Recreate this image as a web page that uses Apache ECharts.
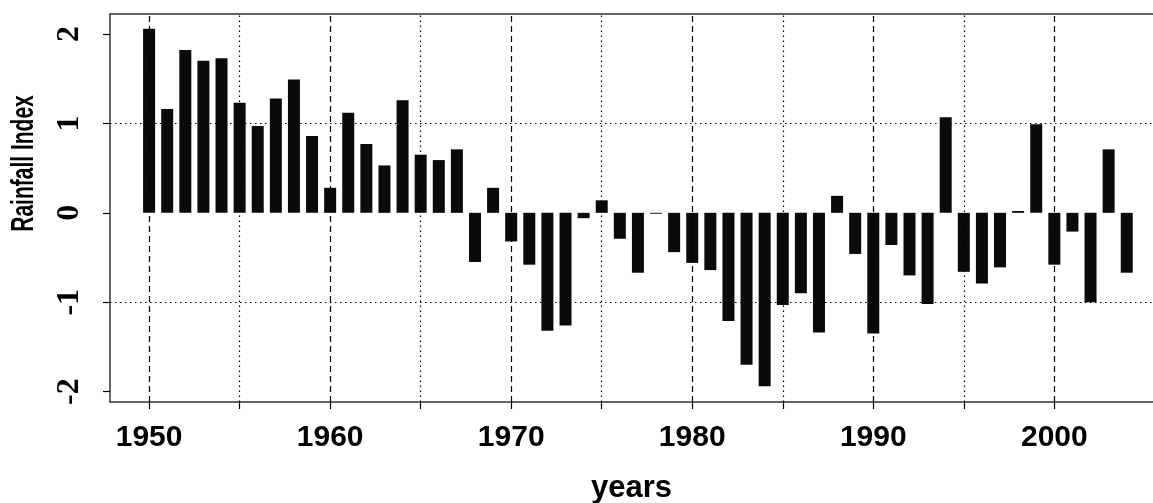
<!DOCTYPE html>
<html>
<head>
<meta charset="utf-8">
<script src="https://cdn.jsdelivr.net/npm/echarts@6/dist/echarts.min.js"></script>
<style>
html,body{margin:0;padding:0;background:#fff;}
#chart{width:1153px;height:503px;}
</style>
</head>
<body>
<div id="chart"></div>
<script>
const years = [1950,1951,1952,1953,1954,1955,1956,1957,1958,1959,
  1960,1961,1962,1963,1964,1965,1966,1967,1968,1969,
  1970,1971,1972,1973,1974,1975,1976,1977,1978,1979,
  1980,1981,1982,1983,1984,1985,1986,1987,1988,1989,
  1990,1991,1992,1993,1994,1995,1996,1997,1998,1999,
  2000,2001,2002,2003,2004];
const rainfall = [2.06,1.16,1.82,1.70,1.73,1.23,0.97,1.28,1.49,0.86,
  0.28,1.12,0.77,0.53,1.26,0.65,0.59,0.71,-0.55,0.28,
  -0.32,-0.58,-1.32,-1.26,-0.06,0.14,-0.29,-0.67,-0.01,-0.44,
  -0.56,-0.64,-1.21,-1.70,-1.94,-1.03,-0.90,-1.34,0.19,-0.46,
  -1.35,-0.36,-0.70,-1.02,1.07,-0.66,-0.79,-0.61,0.02,0.99,
  -0.58,-0.21,-1.00,0.71,-0.67];
const xLabelTicks = [1950,1960,1970,1980,1990,2000];
const xMinorTicks = [1950,1955,1960,1965,1970,1975,1980,1985,1990,1995,2000];
const dashedV = [1950,1960,1970,1980,1990,2000];
const dottedV = [1955,1965,1975,1985,1995];
const dottedH = [-1,1];
const yTicks = [-2,-1,0,1,2];

const chart = echarts.init(document.getElementById('chart'), null, {renderer:'canvas'});
const markData = [];
dashedV.forEach(v => markData.push({xAxis: v, lineStyle:{type:[6,4], color:'#000', width:1.2}}));
dottedV.forEach(v => markData.push({xAxis: v, lineStyle:{type:[1.5,3.5], color:'#000', width:1.2}}));
dottedH.forEach(v => markData.push({yAxis: v, lineStyle:{type:[1.5,3.5], color:'#000', width:1.2}}));

const labelFont = {fontFamily:'Liberation Sans', fontWeight:'bold', color:'#000'};
chart.setOption({
  animation:false,
  backgroundColor:'#fff',
  grid:{left:110, right:0, top:14, bottom:101, show:false, containLabel:false, outerBoundsMode:'none'},
  xAxis:[{
    type:'value', min:1947.84, max:2005.45, position:'bottom',
    axisLine:{show:true, onZero:false, lineStyle:{color:'#333', width:1.5}},
    splitLine:{show:false},
    axisTick:{show:true, customValues:xMinorTicks, length:7, lineStyle:{color:'#000', width:1.2}},
    axisLabel:Object.assign({customValues:xLabelTicks, margin:21, fontSize:30, formatter:v=>String(v)}, labelFont),
    name:'years', nameLocation:'middle', nameGap:71,
    nameTextStyle:Object.assign({fontSize:31}, labelFont)
  },{
    type:'value', min:1947.84, max:2005.45, position:'top',
    axisLine:{show:true, onZero:false, lineStyle:{color:'#333', width:1.5}},
    splitLine:{show:false}, axisTick:{show:false}, axisLabel:{show:false}
  }],
  yAxis:{
    type:'value', min:-2.116, max:2.224,
    axisLine:{show:true, onZero:false, lineStyle:{color:'#333', width:1.5}},
    splitLine:{show:false},
    axisTick:{show:true, customValues:yTicks, length:7, lineStyle:{color:'#000', width:1.2}},
    axisLabel:{customValues:yTicks, rotate:90, margin:24, fontFamily:'Liberation Sans Narrow', fontWeight:'bold', fontSize:32, color:'#000'}
  },
  graphic:[{
    type:'text', x:24, y:163.5, rotation:Math.PI/2, scaleX:0.7, scaleY:1.05,
    style:{text:'Rainfall Index', fontFamily:'Liberation Sans', fontWeight:'bold', fontSize:30, fill:'#000', textAlign:'center', textVerticalAlign:'middle'}
  }],
  series:[{
    type:'bar',
    xAxisIndex:0,
    data: years.map((y,i)=>[y, rainfall[i]]),
    barWidth:12,
    itemStyle:{color:'#0a0a0a'},
    markLine:{silent:true, symbol:['none','none'], label:{show:false}, animation:false, data:markData}
  }]
});
</script>
</body>
</html>
